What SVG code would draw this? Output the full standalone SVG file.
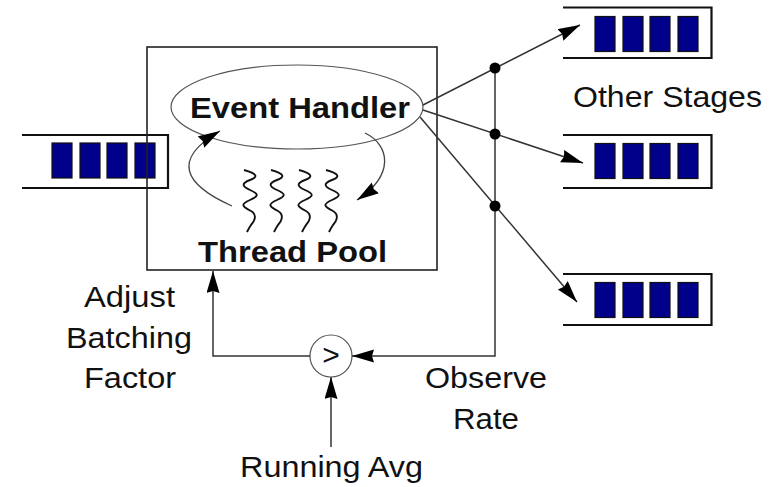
<svg xmlns="http://www.w3.org/2000/svg" width="776" height="487" viewBox="0 0 776 487">
  <style>
    .lbl { font-family: "Liberation Sans", Arial, sans-serif; font-size: 30px; fill: #111; }
    .bold { font-weight: bold; }
    .wire { fill: none; stroke: #333; stroke-width: 1.5; }
    .curve { fill: none; stroke: #444; stroke-width: 1.3; }
    .thread { fill: none; stroke: #111; stroke-width: 1.9; }
    .qline { fill: none; stroke: #111; stroke-width: 2.2; }
    .slot { fill: #00008b; stroke: #111; stroke-width: 1.2; }
    .thin { fill: none; stroke: #555; stroke-width: 1.2; }
    .dot { fill: #000; }
  </style>
  <defs>
    <marker id="arrow" markerUnits="userSpaceOnUse" markerWidth="24" markerHeight="14" refX="22" refY="6.5" orient="auto">
      <path d="M0,0 L22,6.5 L0,13 L2,6.5 Z" fill="#000"/>
    </marker>
    <g id="slots">
      <rect class="slot" x="0" y="0" width="20" height="35"/>
      <rect class="slot" x="28" y="0" width="20" height="35"/>
      <rect class="slot" x="55" y="0" width="20" height="35"/>
      <rect class="slot" x="83" y="0" width="20" height="35"/>
    </g>
    <path id="squiggle" class="thread" d="M2,0 C16,4 16,7 8,10 S-1,16 8,20 S17,26 8,30 S-1,36 9,41 C16,45 12,52 9,55 C7,58 6,60 5,62"/>
  </defs>

  <!-- incoming queue -->
  <g id="queue-in">
    <path class="qline" d="M22,135 H168 V188 H22"/>
    <use href="#slots" x="52" y="143"/>
  </g>

  <!-- stage box -->
  <g id="stage">
    <rect x="147" y="47" width="290" height="223" fill="none" stroke="#222" stroke-width="1.6"/>
  </g>

  <!-- event handler -->
  <g id="event-handler">
    <ellipse cx="297" cy="107" rx="126" ry="42" class="thin"/>
    <text class="lbl bold" x="190" y="118" textLength="220" lengthAdjust="spacingAndGlyphs">Event Handler</text>
  </g>

  <!-- thread pool -->
  <g id="thread-pool">
    <use href="#squiggle" x="242" y="170"/>
    <use href="#squiggle" x="269" y="170"/>
    <use href="#squiggle" x="297" y="170"/>
    <use href="#squiggle" x="324" y="170"/>
    <text class="lbl bold" x="198" y="262" textLength="189" lengthAdjust="spacingAndGlyphs">Thread Pool</text>
  </g>

  <!-- outgoing queues -->
  <g id="queue-out-1">
    <path class="qline" d="M563,7.5 H711.5 V58 H563"/>
    <use href="#slots" x="595" y="16.5"/>
  </g>
  <g id="queue-out-2">
    <path class="qline" d="M563,135 H711.5 V188 H563"/>
    <use href="#slots" x="595" y="143.5"/>
  </g>
  <g id="queue-out-3">
    <path class="qline" d="M563,274 H711.5 V325 H563"/>
    <use href="#slots" x="595" y="282.5"/>
  </g>

  <!-- comparator -->
  <g id="comparator">
    <circle cx="331" cy="356" r="21" class="thin"/>
    <text class="lbl" x="331" y="365" font-size="24" text-anchor="middle">&gt;</text>
  </g>

  <!-- connectors -->
  <g id="connectors">
    <path class="curve" d="M232,206 C185,185 170,160 220,131" marker-end="url(#arrow)"/>
    <path class="curve" d="M365,133 C390,145 395,175 357,200" marker-end="url(#arrow)"/>
    <line class="wire" x1="423" y1="105" x2="580" y2="25" marker-end="url(#arrow)"/>
    <line class="wire" x1="423" y1="110" x2="583" y2="163" marker-end="url(#arrow)"/>
    <line class="wire" x1="420" y1="117" x2="577" y2="302" marker-end="url(#arrow)"/>
    <path class="wire" d="M495,68 V356 H352" marker-end="url(#arrow)"/>
    <path class="wire" d="M310,356 H213 V271" marker-end="url(#arrow)"/>
    <line class="wire" x1="331" y1="447" x2="331" y2="377" marker-end="url(#arrow)"/>
    <circle class="dot" cx="495" cy="68" r="5.5"/>
    <circle class="dot" cx="495" cy="134" r="5.5"/>
    <circle class="dot" cx="495" cy="206" r="5.5"/>
  </g>

  <!-- labels -->
  <g id="labels">
    <text class="lbl" x="573" y="107" textLength="189" lengthAdjust="spacingAndGlyphs">Other Stages</text>
    <text class="lbl" x="84" y="307" textLength="91" lengthAdjust="spacingAndGlyphs">Adjust</text>
    <text class="lbl" x="66" y="348" textLength="126" lengthAdjust="spacingAndGlyphs">Batching</text>
    <text class="lbl" x="84" y="388" textLength="92" lengthAdjust="spacingAndGlyphs">Factor</text>
    <text class="lbl" x="425" y="388" textLength="122" lengthAdjust="spacingAndGlyphs">Observe</text>
    <text class="lbl" x="453" y="429" textLength="66" lengthAdjust="spacingAndGlyphs">Rate</text>
    <text class="lbl" x="240" y="477" textLength="183" lengthAdjust="spacingAndGlyphs">Running Avg</text>
  </g>
</svg>
